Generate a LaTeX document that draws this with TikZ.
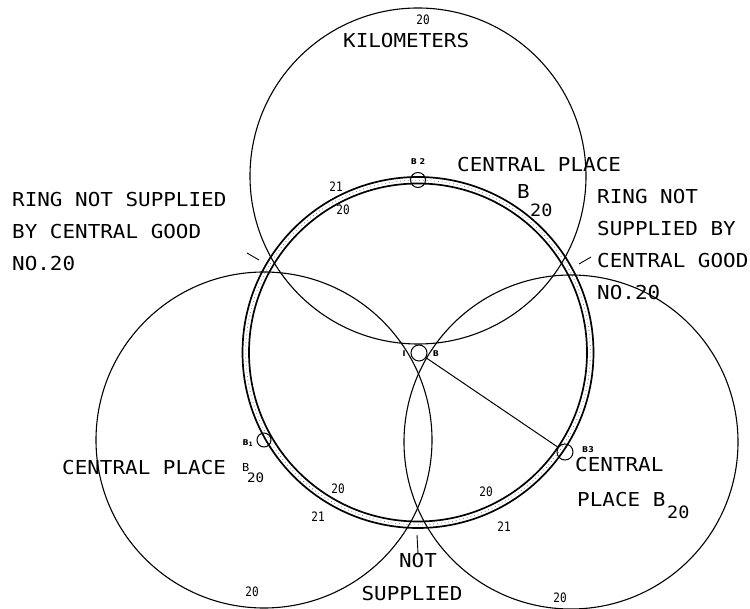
\documentclass[tikz,border=0pt]{standalone}
\usepackage{fontspec}
\newfontfamily\pf[FakeStretch=1.09]{DejaVu Sans Mono}
\newfontfamily\pfs[FakeStretch=0.85]{DejaVu Sans Mono}
\newfontfamily\pfb{DejaVu Sans}
\begin{document}
\begin{tikzpicture}[x=1pt,y=-1pt,
  big/.style={draw, line width=1.1pt},
  ringline/.style={draw, line width=1.7pt},
  band/.style={draw=gray, line width=0.8pt, dash pattern=on 0.8pt off 3pt},
  place/.style={circle, draw, line width=1pt, minimum size=15pt, inner sep=0pt},
  lbl/.style={inner sep=0pt, font=\pf\fontsize{19.2}{32}\selectfont, align=left},
  sub/.style={inner sep=0pt, font=\pf\fontsize{17}{20}\selectfont},
  num/.style={inner sep=0pt, font=\pfs\fontsize{13}{15}\selectfont},
  tiny/.style={inner sep=0pt, font=\pfb\bfseries\fontsize{8}{9}\selectfont},
  lead/.style={draw, line width=0.9pt}]
\useasboundingbox (0,0) rectangle (750,609);
% ring around central place B
\draw[ringline] (418,352.5) circle[radius=175.5];
\draw[ringline] (418,352.5) circle[radius=169];
\draw[band] (418,352.5) circle[radius=172.3];
% 20 km circles
\draw[big] (418,176) circle[radius=168];
\draw[big] (264,440) circle[radius=168];
\draw[big] (571,442) circle[radius=167];
% central places
\node[place, minimum size=16pt] (B) at (419,353) {};
\node[place] (B2) at (418,180) {};
\node[place, minimum size=14pt] (B1) at (264,440) {};
\node[place, minimum size=16pt] (B3) at (565,452) {};
\draw[line width=1pt] (B) -- (B3);
% small labels of places
\node[tiny] (lB2) at (418,162) {B 2};
\node[tiny] (lB1) at (248,443) {B\textsubscript{1}};
\node[tiny] (lB3) at (588,450) {B3};
\node[tiny] (lI) at (404,354) {I};
\node[tiny] (lB) at (436,354) {B};
% distance numbers
\node[num] (n1) at (423,20) {20};
\node[num] (n2) at (336,187) {21};
\node[num] (n3) at (343,210) {20};
\node[num] (n4) at (338,489) {20};
\node[num] (n5) at (318,517) {21};
\node[num] (n6) at (486,492) {20};
\node[num] (n7) at (504,527) {21};
\node[num] (n8) at (560,598) {20};
\node[num] (n9) at (252,592) {20};
% text labels
\node[lbl, anchor=west] (km) at (343,41) {KILOMETERS};
\node[lbl, anchor=north west] (ringL) at (12,192) {RING NOT SUPPLIED\\BY CENTRAL GOOD\\NO.20};
\node[lbl, anchor=north west] (ringR) at (597,189) {RING NOT\\SUPPLIED BY\\CENTRAL GOOD\\NO.20};
\node[lbl, anchor=west] (cpT) at (457,165) {CENTRAL PLACE};
\node[lbl, anchor=west] (cpTB) at (517,192) {B};
\node[sub, anchor=west] (cpTs) at (530,210) {20};
\node[lbl, anchor=west] (cpL) at (62,468) {CENTRAL PLACE};
\node[inner sep=0pt, font=\pf\fontsize{11}{12}\selectfont, anchor=west] (cpLB) at (242,467) {B};
\node[inner sep=0pt, font=\pf\fontsize{13}{14}\selectfont, anchor=west] (cpLs) at (247,478) {20};
\node[lbl, anchor=west] (cpR1) at (575,465) {CENTRAL};
\node[lbl, anchor=west] (cpR2) at (577,500) {PLACE B};
\node[sub, anchor=west] (cpRs) at (667,512) {20};
\node[lbl, anchor=center] (not) at (418,561) {NOT};
\node[lbl, anchor=center] (sup) at (412,594) {SUPPLIED};
% leader ticks
\coordinate (pL1) at (247,253);
\coordinate (pL2) at (259,260);
\draw[lead] (pL1) -- (pL2);
\coordinate (pR1) at (579,264);
\coordinate (pR2) at (591,257);
\draw[lead] (pR1) -- (pR2);
\coordinate (t1) at (417,535);
\draw[lead] (t1) -- (not.north);
\end{tikzpicture}
\end{document}
